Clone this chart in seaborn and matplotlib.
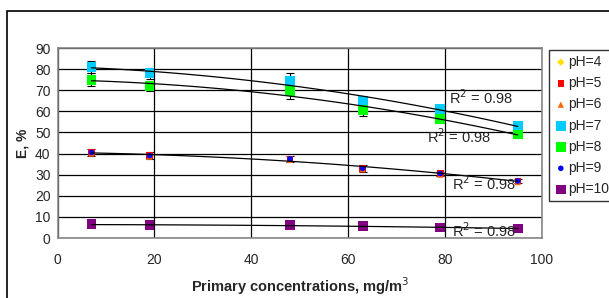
import numpy as np
import pandas as pd
import seaborn as sns
import matplotlib.pyplot as plt
from matplotlib.patches import Rectangle

sns.set_style("white")
plt.rcParams['font.family'] = ['Liberation Sans', 'DejaVu Sans']

conc = [7, 19, 48, 63, 79, 95]
ph4 = [6.0, 5.5, 5.5, 5.0, 4.5, 4.0]
ph5 = [40.5, 39.0, 37.5, 33.0, 30.5, 27.0]
ph6 = [40.0, 38.5, 37.0, 32.5, 30.0, 26.5]
ph7 = [81.0, 78.0, 74.5, 65.0, 61.0, 53.0]
ph8 = [75.0, 72.0, 69.5, 60.5, 56.5, 49.0]
ph9 = [40.5, 39.0, 37.5, 33.0, 30.5, 27.0]
ph10 = [6.5, 6.0, 6.0, 5.5, 5.0, 4.5]
err_hi = [3.0, 2.5, 3.5, 2.5, 2.0, 1.5]
err_mid = [1.8, 1.8, 1.5, 1.5, 1.0, 1.0]

series = [
    ("pH=4", ph4, "#FFE000", "D", 14),
    ("pH=5", ph5, "#FF0000", "s", 22),
    ("pH=6", ph6, "#FF6600", "^", 20),
    ("pH=7", ph7, "#00CCFF", "s", 50),
    ("pH=8", ph8, "#00FF00", "s", 50),
    ("pH=9", ph9, "#0000FF", "o", 16),
    ("pH=10", ph10, "#800080", "s", 50),
]
fits = [ph7, ph8, ph9, ph10]
r2_pos = [(80.8, 66.5), (76.3, 47.8), (81.5, 25.6), (81.5, 3.5)]

fig = plt.figure(figsize=(6.09, 2.98), dpi=100)
fig.patches.append(Rectangle((7 / 609, -0.1), 1.2, (298 - 11) / 298 + 0.1,
                             transform=fig.transFigure, fill=False,
                             edgecolor="black", lw=1.2))
ax = fig.add_axes([57.5 / 609, 60 / 298, 484.5 / 609, 190 / 298])

# error bars first (behind markers)
for vals, e in [(ph7, err_hi), (ph8, err_hi), (ph9, err_mid)]:
    ax.errorbar(conc, vals, yerr=e, fmt="none", ecolor="black",
                elinewidth=0.8, capsize=3, capthick=0.8, zorder=2)

for name, vals, col, mk, sz in series:
    sns.scatterplot(x=conc, y=vals, marker=mk, color=col, s=sz,
                    edgecolor="none", label=name, ax=ax, zorder=3)

for vals in fits:
    sns.regplot(x=np.array(conc), y=np.array(vals), order=2, ci=None,
                scatter=False, ax=ax, line_kws=dict(color="black", lw=0.9, zorder=4))

for x, y in r2_pos:
    ax.text(x, y, "R$^2$ = 0.98", fontsize=10.5, va="center", zorder=5)

ax.set_xlim(0, 100)
ax.set_ylim(0, 90)
ax.set_xticks(range(0, 101, 20))
ax.set_yticks(range(0, 91, 10))
ax.grid(True, color="black", lw=0.9)
ax.set_axisbelow(True)
for sp in ax.spines.values():
    sp.set_color("#888888")
    sp.set_linewidth(1.2)
ax.tick_params(axis="both", labelsize=10, length=3, color="black", pad=2)
ax.tick_params(axis="x", pad=8)
ax.set_xlabel("Primary concentrations, mg/m$^3$", fontsize=10.5, fontweight="bold", labelpad=6)
ax.set_ylabel("E, %", fontsize=10, fontweight="bold", labelpad=4)

leg = ax.legend(loc="upper left", bbox_to_anchor=(549 / 609, 248 / 298),
                bbox_transform=fig.transFigure, frameon=True, fontsize=10,
                handletextpad=0.0, borderpad=0.35, labelspacing=0.52,
                handlelength=1.0, borderaxespad=0, fancybox=False)
leg.get_frame().set_edgecolor("black")
leg.get_frame().set_linewidth(1.0)

fig.savefig("out.png", dpi=100)
